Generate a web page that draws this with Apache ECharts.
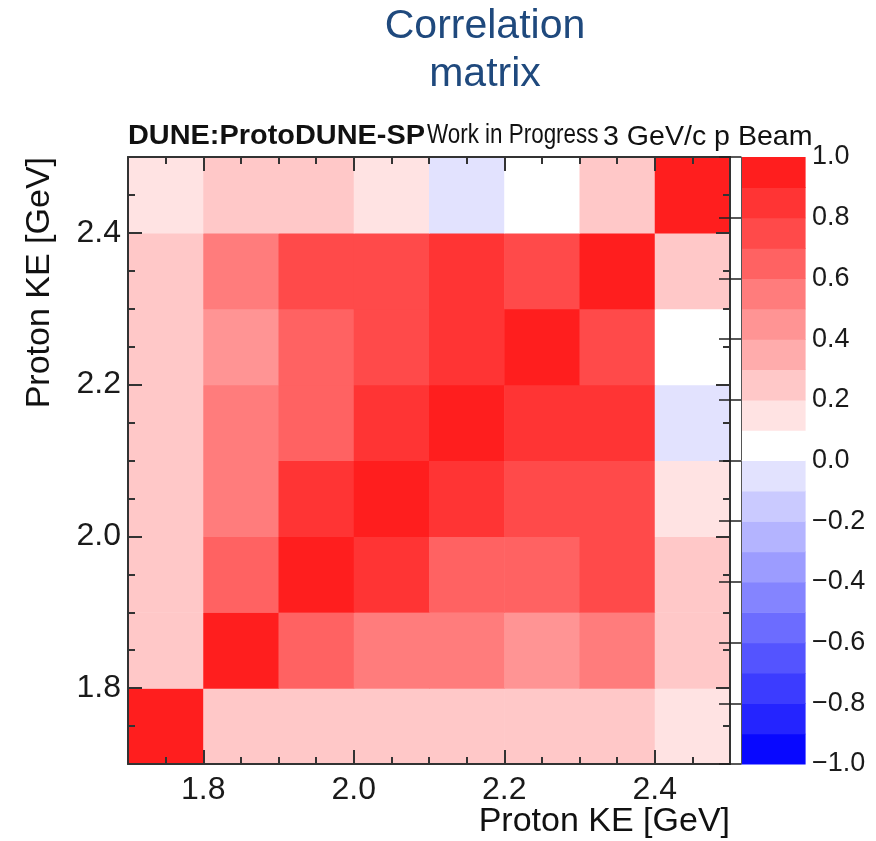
<!DOCTYPE html>
<html>
<head>
<meta charset="utf-8">
<script src="https://cdn.jsdelivr.net/npm/echarts@6/dist/echarts.min.js"></script>
<style>
  html, body { margin: 0; padding: 0; background: #fff; }
  #chart { width: 876px; height: 841px; }
</style>
</head>
<body>
<div id="chart"></div>
<script>
// bin edges of proton KE [GeV], same on both axes
var binEdges = [1.7, 1.8, 1.9, 2.0, 2.1, 2.2, 2.3, 2.4, 2.5];

// correlation coefficients, rows = y bins from 1.7 (bottom) to 2.4 (top), columns = x bins
var corr = [
  [1.00, 0.24, 0.25, 0.23, 0.26, 0.22, 0.24, 0.16],
  [0.24, 1.00, 0.64, 0.53, 0.55, 0.44, 0.54, 0.27],
  [0.25, 0.64, 1.00, 0.83, 0.65, 0.63, 0.76, 0.25],
  [0.23, 0.53, 0.83, 1.00, 0.84, 0.74, 0.75, 0.17],
  [0.26, 0.55, 0.65, 0.84, 1.00, 0.86, 0.85, -0.04],
  [0.22, 0.44, 0.63, 0.74, 0.86, 1.00, 0.77, 0.05],
  [0.24, 0.54, 0.76, 0.75, 0.85, 0.77, 1.00, 0.28],
  [0.16, 0.27, 0.25, 0.17, -0.04, 0.05, 0.28, 1.00]
];

var majorTicks = [1.8, 2.0, 2.2, 2.4];
var minorTicks = [1.75, 1.85, 1.9, 1.95, 2.05, 2.1, 2.15, 2.25, 2.3, 2.35, 2.45];

// colour scale: 20 contour levels
var levelEdges = [-1.0, -0.9, -0.8, -0.7, -0.6, -0.5, -0.4, -0.3, -0.2, -0.1, 0.0,
                  0.1, 0.2, 0.3, 0.4, 0.5, 0.6, 0.7, 0.8, 0.9, 1.0];
var scaleTicks = [-1.0, -0.8, -0.6, -0.4, -0.2, 0.0, 0.2, 0.4, 0.6, 0.8, 1.0];

// colours of the levels, from -1 upward
var levelColors = [
  '#0808ff', '#2424ff', '#3c3cff', '#5454ff', '#6c6cff',
  '#8484ff', '#9c9cff', '#b4b4ff', '#cacaff', '#e2e2fe',
  '#ffffff', '#ffe3e3', '#ffc8c8', '#ffacac', '#ff9494',
  '#ff7c7c', '#ff6262', '#ff4a4a', '#ff3434', '#ff1e1e'
];

var FONT = "'Liberation Sans', Arial, sans-serif";
var LINE = '#333';

var cells = [];
corr.forEach(function (row, j) {
  row.forEach(function (v, i) {
    cells.push([binEdges[i], binEdges[j], binEdges[i + 1], binEdges[j + 1], v]);
  });
});

var bands = [];
for (var k = 0; k < levelEdges.length - 1; k++) {
  bands.push([0, levelEdges[k], 1, levelEdges[k + 1], (levelEdges[k] + levelEdges[k + 1]) / 2]);
}

var pieces = levelColors.map(function (c, k) {
  var p = { gte: levelEdges[k], color: c };
  if (k === levelColors.length - 1) p.lte = levelEdges[k + 1];
  else p.lt = levelEdges[k + 1];
  return p;
});

function renderCell(params, api) {
  var a = api.coord([api.value(0), api.value(3)]);
  var b = api.coord([api.value(2), api.value(1)]);
  return {
    type: 'rect',
    shape: { x: a[0], y: a[1], width: b[0] - a[0] + 0.6, height: b[1] - a[1] + 0.6 },
    style: { fill: api.visual('color') }
  };
}

function tickLabel(v) {
  return v.toFixed(1);
}

// one axis of the frame; 'major' carries the line + long ticks, 'minor' only short ticks
function frameAxis(pos, kind, labels) {
  var major = kind === 'major';
  return {
    type: 'value',
    gridIndex: 0,
    position: pos,
    min: 1.7,
    max: 2.5,
    z: 10,
    axisLine: { show: major, lineStyle: { color: LINE, width: 2 } },
    axisTick: {
      show: true,
      inside: true,
      length: major ? 14 : 7,
      customValues: major ? majorTicks : minorTicks,
      lineStyle: { color: LINE, width: 2 }
    },
    axisLabel: {
      show: !!labels,
      customValues: majorTicks,
      formatter: tickLabel,
      fontSize: 32,
      fontFamily: FONT,
      color: '#1a1a1a',
      margin: pos === 'bottom' ? 10 : 7
    },
    splitLine: { show: false }
  };
}

function label(text, x, y, opts) {
  var style = {
    text: text,
    fontSize: opts.size,
    fontWeight: opts.weight || 'normal',
    fontFamily: FONT,
    fill: opts.color || '#111',
    align: opts.align || 'left',
    textAlign: opts.align || 'left',
    verticalAlign: 'middle',
    textVerticalAlign: 'middle'
  };
  return { type: 'text', x: x, y: y, scaleX: opts.scaleX || 1, rotation: opts.rotation || 0, style: style };
}

var chart = echarts.init(document.getElementById('chart'));

chart.setOption({
  backgroundColor: '#fff',
  animation: false,
  grid: [
    { left: 128, top: 157, width: 602, height: 607 },
    { left: 741, top: 157, width: 64, height: 607 }
  ],
  xAxis: [
    frameAxis('bottom', 'major', true),
    frameAxis('bottom', 'minor'),
    frameAxis('top', 'major'),
    frameAxis('top', 'minor'),
    { type: 'value', gridIndex: 1, min: 0, max: 1, show: false }
  ],
  yAxis: [
    frameAxis('left', 'major', true),
    frameAxis('left', 'minor'),
    frameAxis('right', 'major'),
    frameAxis('right', 'minor'),
    {
      type: 'value',
      gridIndex: 1,
      position: 'right',
      min: -1,
      max: 1,
      z: 10,
      axisLine: { show: true, lineStyle: { color: '#555', width: 1 } },
      axisTick: {
        show: true,
        inside: true,
        length: 22,
        customValues: scaleTicks,
        lineStyle: { color: '#222', width: 1.5 }
      },
      axisLabel: {
        customValues: scaleTicks,
        formatter: function (v) {
          return (v < 0 ? '\u2212' : '') + Math.abs(v).toFixed(1);
        },
        fontSize: 27,
        fontFamily: FONT,
        color: '#1a1a1a',
        margin: 7
      },
      splitLine: { show: false }
    }
  ],
  visualMap: {
    type: 'piecewise',
    show: false,
    dimension: 4,
    seriesIndex: [0, 1],
    pieces: pieces
  },
  series: [
    {
      type: 'custom',
      xAxisIndex: 0,
      yAxisIndex: 0,
      renderItem: renderCell,
      encode: { x: [0, 2], y: [1, 3] },
      data: cells
    },
    {
      type: 'custom',
      xAxisIndex: 4,
      yAxisIndex: 4,
      renderItem: renderCell,
      encode: { x: [0, 2], y: [1, 3] },
      data: bands
    }
  ],
  graphic: [
    label('Correlation', 485, 27, { size: 41, color: '#1f497d', align: 'center' }),
    label('matrix', 485, 75, { size: 41, color: '#1f497d', align: 'center' }),
    label('DUNE:ProtoDUNE-SP', 128, 137, { size: 27, weight: 'bold', scaleX: 1.07 }),
    label('Work in Progress', 427, 136, { size: 27, scaleX: 0.83 }),
    label('3 GeV/c p Beam', 603, 137, { size: 28, scaleX: 1.02 }),
    label('Proton KE [GeV]', 730, 822, { size: 34, align: 'right' }),
    label('Proton KE [GeV]', 40, 157, { size: 34, align: 'right', rotation: Math.PI / 2 })
  ]
});
</script>
</body>
</html>
